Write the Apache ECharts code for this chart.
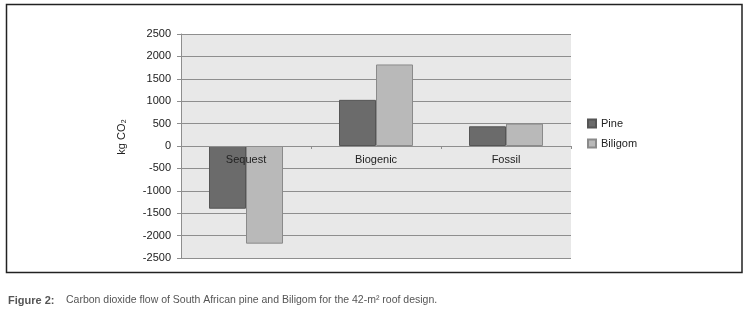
<!DOCTYPE html>
<html>
<head>
<meta charset="utf-8">
<script src="https://cdn.jsdelivr.net/npm/echarts@6/dist/echarts.min.js"></script>
<style>
  html, body { margin: 0; padding: 0; background: #fff; }
  #chart { width: 751px; height: 309px; }
</style>
</head>
<body>
<div id="chart"></div>
<script>
// chart data
const categories = ["Sequest", "Biogenic", "Fossil"];
const pineValues = [-1400, 1030, 440];
const biligomValues = [-2180, 1820, 500];
const seriesNames = ["Pine", "Biligom"];
const yTitle = "kg CO\u2082";
const captionLabel = "Figure 2:";
const captionText = "Carbon dioxide flow of South African pine and Biligom for the 42-m\u00b2 roof design.";

const FONT = "'Liberation Sans', Arial, sans-serif";
const gridColor = "#8e8e8e";

const chart = echarts.init(document.getElementById("chart"), null, { renderer: "canvas" });

chart.setOption({
  animation: false,
  backgroundColor: "#fff",
  textStyle: { fontFamily: FONT },
  grid: {
    left: 181, right: 180, top: 34, bottom: 51,
    show: true, backgroundColor: "#e8e8e8", borderWidth: 0
  },
  legend: {
    orient: "vertical",
    left: 587, top: 118,
    padding: 0,
    itemWidth: 8, itemHeight: 8, itemGap: 9,
    icon: "rect",
    textStyle: { fontFamily: FONT, fontSize: 11, color: "#222" },
    data: seriesNames
  },
  xAxis: {
    type: "category",
    data: categories,
    z: 10,
    // category labels sit just under the zero line, like the original
    offset: -112,
    axisLine: { onZero: false, lineStyle: { color: gridColor, width: 1 } },
    axisTick: { show: true, length: 3, lineStyle: { color: gridColor } },
    axisLabel: { margin: 8, fontFamily: FONT, fontSize: 11, color: "#222" },
    splitLine: { show: false }
  },
  yAxis: {
    type: "value",
    min: -2500, max: 2500, interval: 500,
    name: yTitle,
    nameLocation: "middle",
    nameGap: 54,
    nameTextStyle: { fontFamily: FONT, fontSize: 11, color: "#222", padding: [0, 0, 0, 18] },
    axisLine: { show: true, lineStyle: { color: gridColor } },
    axisTick: { show: true, length: 4, lineStyle: { color: gridColor } },
    axisLabel: {
      margin: 10, fontFamily: FONT, fontSize: 11, color: "#1a1a1a",
      formatter: v => String(v)
    },
    splitLine: { show: true, lineStyle: { color: gridColor, width: 1 } }
  },
  series: [
    {
      name: seriesNames[0], type: "bar", data: pineValues,
      barWidth: 37, barGap: "0%",
      itemStyle: { color: "#6b6b6b", borderColor: "#555", borderWidth: 1 }
    },
    {
      name: seriesNames[1], type: "bar", data: biligomValues,
      barWidth: 37, barGap: "0%",
      itemStyle: { color: "#b9b9b9", borderColor: "#8a8a8a", borderWidth: 1 }
    }
  ],
  graphic: [
    {
      type: "rect",
      shape: { x: 6.5, y: 4.5, width: 735.5, height: 268 },
      style: { fill: "none", stroke: "#222", lineWidth: 1.5 },
      silent: true
    },
    {
      type: "text", left: 8, top: 295,
      style: { text: captionLabel, fontFamily: FONT, fontSize: 11, fontWeight: "bold", fill: "#555" }
    },
    {
      type: "text", left: 66, top: 295,
      style: { text: captionText, fontFamily: FONT, fontSize: 10.5, fill: "#555" }
    }
  ]
});
</script>
</body>
</html>
